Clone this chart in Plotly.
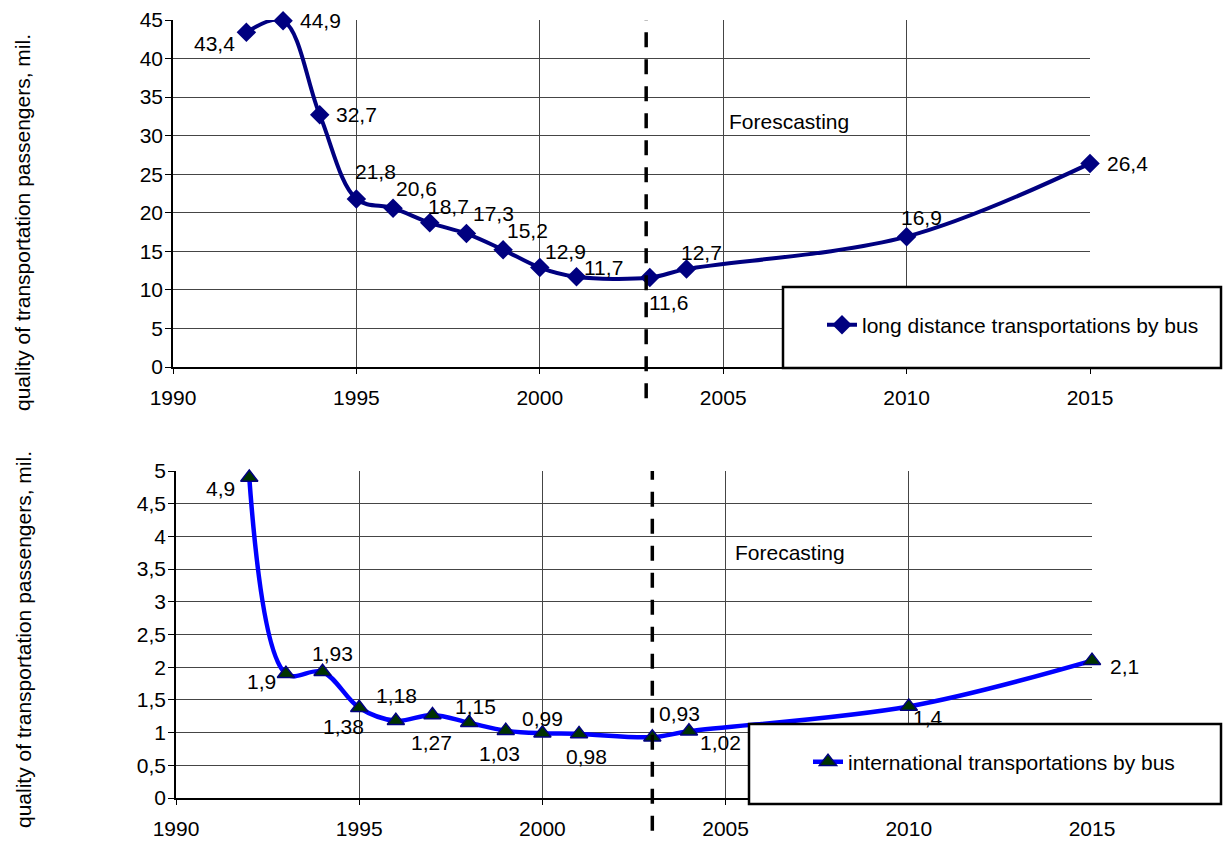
import plotly.graph_objects as go

# ---------------- data ----------------
years = [1992, 1993, 1994, 1995, 1996, 1997, 1998, 1999, 2000, 2001, 2003, 2004, 2010, 2015]
long_distance = [43.4, 44.9, 32.7, 21.8, 20.6, 18.7, 17.3, 15.2, 12.9, 11.7, 11.6, 12.7, 16.9, 26.4]
international = [4.9, 1.9, 1.93, 1.38, 1.18, 1.27, 1.15, 1.03, 0.99, 0.98, 0.93, 1.02, 1.4, 2.1]

x_ticks = [1990, 1995, 2000, 2005, 2010, 2015]
y_ticks_top = [0, 5, 10, 15, 20, 25, 30, 35, 40, 45]
y_ticks_bottom = [0, 0.5, 1, 1.5, 2, 2.5, 3, 3.5, 4, 4.5, 5]

name_top = "long distance transportations by bus"
name_bottom = "international transportations by bus"
y_title = "quality of transportation passengers, mil."
forecast_top = "Forescasting"
forecast_bottom = "Forecasting"

# label placement (pixel offsets of label centre from point: dx right, dy down)
offsets_top = [(-32, 11), (37, 0), (37, 0), (19, -27), (23, -20), (19, -16), (27, -20),
               (24, -19), (26, -16), (27, -9), (19, 25), (15, -17), (15, -19), (37, 0)]
offsets_bottom = [(-29, 11), (-24, 8), (10, -18), (-16, 19), (1, -25), (-1, 28), (6, -16),
                  (-6, 23), (0, -15), (7, 23), (27, -24), (32, 11), (19, 11), (32, 6)]

FONT = "Liberation Sans, Arial, sans-serif"
W, H = 1223, 841
GRID = "#454545"

fig = go.Figure()

fig.add_trace(go.Scatter(
    x=years, y=long_distance, name=name_top, mode="lines+markers",
    line=dict(color="#000080", width=4, shape="spline", smoothing=1),
    marker=dict(symbol="diamond", size=15, color="#000080"),
    cliponaxis=False, xaxis="x", yaxis="y", legend="legend"))

fig.add_trace(go.Scatter(
    x=years, y=international, name=name_bottom, mode="lines+markers",
    line=dict(color="#0000FF", width=4.5, shape="spline", smoothing=1),
    marker=dict(symbol="triangle-up", size=15, color="#003300",
                line=dict(color="#000080", width=1.5)),
    cliponaxis=False, xaxis="x2", yaxis="y2", legend="legend2"))

annotations = []
for yr, v, (dx, dy) in zip(years, long_distance, offsets_top):
    annotations.append(dict(x=yr, y=v, xref="x", yref="y", text=str(v).replace(".", ","),
                            showarrow=False, xshift=dx, yshift=-dy,
                            xanchor="center", yanchor="middle",
                            font=dict(family=FONT, size=21, color="black")))
for yr, v, (dx, dy) in zip(years, international, offsets_bottom):
    annotations.append(dict(x=yr, y=v, xref="x2", yref="y2", text=str(v).replace(".", ","),
                            showarrow=False, xshift=dx, yshift=-dy,
                            xanchor="center", yanchor="middle",
                            font=dict(family=FONT, size=21, color="black")))

# axis titles
annotations.append(dict(x=23 / W, y=1 - 223 / H, xref="paper", yref="paper", text=y_title,
                        textangle=-90, showarrow=False, xanchor="center", yanchor="middle",
                        font=dict(family=FONT, size=21, color="black")))
annotations.append(dict(x=23 / W, y=1 - 640 / H, xref="paper", yref="paper", text=y_title,
                        textangle=-90, showarrow=False, xanchor="center", yanchor="middle",
                        font=dict(family=FONT, size=21, color="black")))
# forecasting notes
annotations.append(dict(x=2005.1, y=31.9, xref="x", yref="y", text=forecast_top,
                        showarrow=False, xanchor="left", yanchor="middle",
                        font=dict(family=FONT, size=21, color="black")))
annotations.append(dict(x=2005.2, y=3.75, xref="x2", yref="y2", text=forecast_bottom,
                        showarrow=False, xanchor="left", yanchor="middle",
                        font=dict(family=FONT, size=21, color="black")))

shapes = [
    # forecast boundary lines
    dict(type="line", xref="x", yref="y domain", x0=2002.9, x1=2002.9, y0=-0.09, y1=1,
         line=dict(color="black", width=3.5, dash="15px,12px"), layer="above"),
    dict(type="line", xref="x2", yref="y2 domain", x0=2003, x1=2003, y0=-0.1, y1=1,
         line=dict(color="black", width=3.5, dash="15px,12px"), layer="above"),
    # legend boxes
    dict(type="rect", xref="paper", yref="paper", x0=783 / W, x1=1221 / W,
         y0=1 - 368 / H, y1=1 - 287 / H, fillcolor="white",
         line=dict(color="black", width=2.5), layer="above"),
    dict(type="rect", xref="paper", yref="paper", x0=749 / W, x1=1221 / W,
         y0=1 - 804 / H, y1=1 - 724 / H, fillcolor="white",
         line=dict(color="black", width=2.5), layer="above"),
]

xaxis_common = dict(range=[1990, 2015], tickvals=x_ticks, showgrid=True, gridcolor=GRID,
                    gridwidth=1, showline=True, linecolor="black", linewidth=1.5,
                    ticks="outside", ticklen=5, tickcolor="black", zeroline=False,
                    tickfont=dict(family=FONT, size=21, color="black"),
                    ticklabelstandoff=6, automargin=False)
yaxis_common = dict(showgrid=True, gridcolor=GRID, gridwidth=1, showline=True,
                    linecolor="black", linewidth=1.5, ticks="outside", ticklen=6,
                    tickcolor="black", zeroline=False, ticklabelstandoff=-2,
                    tickfont=dict(family=FONT, size=21, color="black"), automargin=False)

fig.update_layout(
    width=W, height=H,
    margin=dict(l=0, r=0, t=0, b=0),
    paper_bgcolor="white", plot_bgcolor="white",
    separators=", ",
    font=dict(family=FONT, size=21, color="black"),
    xaxis=dict(domain=[173 / W, 1090 / W], anchor="y", **xaxis_common),
    yaxis=dict(domain=[1 - 367 / H, 1 - 20 / H], anchor="x", range=[0, 45],
               tickvals=y_ticks_top, **yaxis_common),
    xaxis2=dict(domain=[176 / W, 1092 / W], anchor="y2", **xaxis_common),
    yaxis2=dict(domain=[1 - 798 / H, 1 - 471 / H], anchor="x2", range=[0, 5],
                tickvals=y_ticks_bottom, **yaxis_common),
    legend=dict(x=822 / W, y=1 - 325 / H, xanchor="left", yanchor="middle",
                bgcolor="rgba(0,0,0,0)", borderwidth=0,
                font=dict(family=FONT, size=21, color="black")),
    legend2=dict(x=808 / W, y=1 - 762 / H, xanchor="left", yanchor="middle",
                 bgcolor="rgba(0,0,0,0)", borderwidth=0,
                 font=dict(family=FONT, size=21, color="black")),
    showlegend=True,
    annotations=annotations,
    shapes=shapes,
)

fig.write_html("out.html", config={"displayModeBar": False},
               post_script="document.body.style.margin='0';document.body.style.overflow='hidden';")
